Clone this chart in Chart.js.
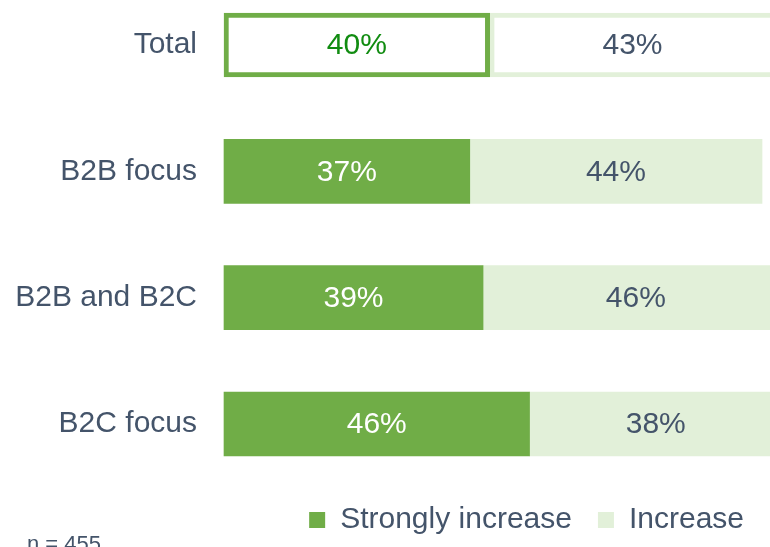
<!DOCTYPE html>
<html>
<head>
<meta charset="utf-8">
<script src="https://cdn.jsdelivr.net/npm/chart.js@4"></script>
<style>
  html, body { margin: 0; padding: 0; background: #fff; overflow: hidden; }
  #wrap { position: relative; width: 770px; height: 547px; overflow: hidden; }
  #note {
    position: absolute; left: 27px; top: 531px;
    font-family: "Liberation Sans", Arial, sans-serif; font-size: 22px;
    color: #44546A; line-height: 26px; white-space: nowrap;
  }
</style>
</head>
<body>
<div id="wrap">
  <canvas id="myChart" width="770" height="547"></canvas>
  <div id="note">n = 455</div>
</div>
<script>
// Категориите и стойностите на двете серии (в проценти)
const categories = ['Total', 'B2B focus', 'B2B and B2C', 'B2C focus'];
const seriesNames = ['Strongly increase', 'Increase'];
const stronglyIncrease = [40, 37, 39, 46];
const increase = [43, 44, 46, 38];

const green = '#70AD47';
const lightGreen = '#E2F0D9';
const textColor = '#44546A';

// Плъгин, който пише процентите в средата на всеки сегмент
const barLabels = {
    id: 'barLabels',
    afterDatasetsDraw(chart) {
        const ctx = chart.ctx;
        ctx.save();
        ctx.font = '30px "Liberation Sans", Arial, sans-serif';
        ctx.textAlign = 'center';
        ctx.textBaseline = 'middle';
        chart.data.datasets.forEach((ds, i) => {
            const meta = chart.getDatasetMeta(i);
            meta.data.forEach((bar, j) => {
                const p = bar.getProps(['x', 'y', 'base'], true);
                ctx.fillStyle = ds.labelColors[j];
                ctx.fillText(ds.data[j] + '%', (p.x + p.base) / 2, p.y + 1);
            });
        });
        ctx.restore();
    }
};

const canvas = document.getElementById('myChart');

new Chart(canvas, {
    type: 'bar',
    data: {
        labels: categories,
        datasets: [{
            label: seriesNames[0],
            data: stronglyIncrease,
            backgroundColor: ['#FFFFFF', green, green, green],
            borderColor: green,
            borderWidth: [5, 0, 0, 0],
            borderSkipped: false,
            labelColors: ['#118C11', '#FFFFFF', '#FFFFFF', '#FFFFFF'],
            legendColor: green
        }, {
            label: seriesNames[1],
            data: increase,
            backgroundColor: ['#FFFFFF', lightGreen, lightGreen, lightGreen],
            borderColor: lightGreen,
            borderWidth: [5, 0, 0, 0],
            borderSkipped: false,
            labelColors: [textColor, textColor, textColor, textColor],
            legendColor: lightGreen
        }]
    },
    options: {
        indexAxis: 'y',
        responsive: false,
        animation: false,
        barThickness: 64,
        clip: false,
        layout: { padding: { top: 42, left: 0, right: 0, bottom: 2 } },
        scales: {
            x: {
                stacked: true,
                min: 0,
                max: 82.2,
                grid: { display: false, drawTicks: false },
                border: { display: false },
                ticks: { display: false },
                afterFit(scale) { scale.height = 55; }
            },
            y: {
                stacked: true,
                offset: false,
                grid: { display: false, drawTicks: false },
                border: { display: false },
                ticks: {
                    padding: 27,
                    color: textColor,
                    font: { family: '"Liberation Sans", Arial, sans-serif', size: 30 }
                },
                afterFit(scale) { scale.width = 224; }
            }
        },
        plugins: {
            tooltip: { enabled: false },
            legend: {
                position: 'bottom',
                align: 'end',
                labels: {
                    boxWidth: 16,
                    boxHeight: 16,
                    padding: 26,
                    color: textColor,
                    font: { family: '"Liberation Sans", Arial, sans-serif', size: 30 },
                    generateLabels(chart) {
                        return chart.data.datasets.map((ds, i) => ({
                            text: ds.label,
                            fillStyle: ds.legendColor,
                            strokeStyle: ds.legendColor,
                            lineWidth: 0,
                            fontColor: textColor,
                            datasetIndex: i
                        }));
                    }
                }
            }
        }
    },
    plugins: [barLabels]
});
</script>
</body>
</html>
